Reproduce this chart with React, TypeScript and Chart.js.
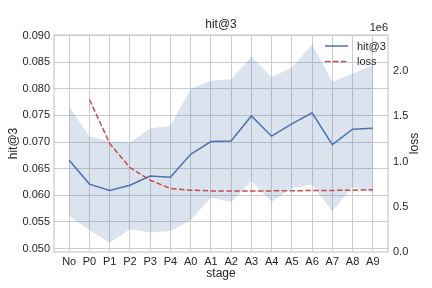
import React, { useEffect, useRef } from "react";
import { Chart, registerables } from "chart.js";

Chart.register(...registerables);

const stages = ["No", "P0", "P1", "P2", "P3", "P4", "A0", "A1", "A2", "A3", "A4", "A5", "A6", "A7", "A8", "A9"];
const hitMean = [0.0666, 0.0621, 0.0609, 0.0619, 0.0636, 0.0634, 0.0677, 0.0701, 0.0702, 0.0749, 0.0711, 0.0734, 0.0755, 0.0695, 0.0724, 0.0726];
const hitUpper = [0.0766, 0.0711, 0.0701, 0.0699, 0.0726, 0.0730, 0.0800, 0.0815, 0.0818, 0.0860, 0.0822, 0.0840, 0.0883, 0.0813, 0.0828, 0.0844];
const hitLower = [0.0561, 0.0535, 0.0511, 0.0536, 0.0530, 0.0533, 0.0553, 0.0596, 0.0587, 0.0627, 0.0588, 0.0613, 0.0620, 0.0570, 0.0616, 0.0605];
const lossValues: (number | null)[] = [null, 1687000, 1200000, 934000, 794000, 702000, 683000, 676000, 675000, 675000, 676000, 677000, 680000, 681000, 684000, 688000];
const leftTicks = [0.05, 0.055, 0.06, 0.065, 0.07, 0.075, 0.08, 0.085, 0.09];
const rightTicks = [0, 500000, 1000000, 1500000, 2000000];

const FONT = "'Liberation Sans', Arial, sans-serif";
const TEXT = "#262626";
const GRID = "#cccccc";
const BLUE = "#4c72b0";
const RED = "#c44e52";

function pts(arr: (number | null)[]) {
  return arr.map((v, i) => ({ x: i, y: v })).filter((p) => p.y !== null);
}

export default function App() {
  const ref = useRef<HTMLCanvasElement>(null);
  useEffect(() => {
    document.body.style.margin = "0";
    const canvas = ref.current!;
    const decor = {
      id: "decor",
      beforeDatasetsDraw(chart: any) {
        const { ctx, chartArea: a } = chart;
        ctx.save();
        ctx.strokeStyle = GRID;
        ctx.lineWidth = 1.25;
        ctx.strokeRect(a.left, a.top, a.right - a.left, a.bottom - a.top);
        ctx.restore();
      },
      afterDraw(chart: any) {
        const { ctx, chartArea: a } = chart;
        ctx.save();
        ctx.fillStyle = TEXT;
        ctx.font = `12px ${FONT}`;
        ctx.textAlign = "center";
        ctx.textBaseline = "middle";
        ctx.fillText("hit@3", (a.left + a.right) / 2, 25);
        ctx.fillText("stage", (a.left + a.right) / 2, 274);
        ctx.save();
        ctx.translate(14, (a.top + a.bottom) / 2);
        ctx.rotate(-Math.PI / 2);
        ctx.fillText("hit@3", 0, 0);
        ctx.restore();
        ctx.save();
        ctx.translate(415, (a.top + a.bottom) / 2);
        ctx.rotate(-Math.PI / 2);
        ctx.fillText("loss", 0, 0);
        ctx.restore();
        ctx.font = `11px ${FONT}`;
        ctx.textAlign = "right";
        ctx.fillText("1e6", a.right, 28);
        // legend
        const lx = a.right - 63;
        const items = [
          { label: "hit@3", color: BLUE, dash: [] as number[], y: 46 },
          { label: "loss", color: RED, dash: [5.5, 2.4], y: 61.5 },
        ];
        items.forEach((it) => {
          ctx.strokeStyle = it.color;
          ctx.lineWidth = 1.5;
          ctx.setLineDash(it.dash);
          ctx.beginPath();
          ctx.moveTo(lx, it.y);
          ctx.lineTo(lx + 23, it.y);
          ctx.stroke();
          ctx.setLineDash([]);
          ctx.textAlign = "left";
          ctx.fillStyle = TEXT;
          ctx.fillText(it.label, lx + 32, it.y + 0.5);
        });
        ctx.restore();
      },
    };

    const chart = new Chart(canvas, {
      type: "line",
      data: {
        datasets: [
          {
            label: "hit@3",
            data: pts(hitMean),
            borderColor: BLUE,
            borderWidth: 1.5,
            pointRadius: 0,
            tension: 0,
            fill: false,
            yAxisID: "y",
            order: 1,
          },
          {
            label: "upper",
            data: pts(hitUpper),
            borderWidth: 0,
            borderColor: "rgba(0,0,0,0)",
            backgroundColor: "rgba(76,114,176,0.2)",
            pointRadius: 0,
            fill: "+1",
            yAxisID: "y",
            order: 3,
          },
          {
            label: "lower",
            data: pts(hitLower),
            borderWidth: 0,
            borderColor: "rgba(0,0,0,0)",
            pointRadius: 0,
            fill: false,
            yAxisID: "y",
            order: 3,
          },
          {
            label: "loss",
            data: pts(lossValues),
            borderColor: RED,
            borderWidth: 1.5,
            borderDash: [5.5, 2.4],
            pointRadius: 0,
            fill: false,
            yAxisID: "y1",
            order: 0,
          },
        ],
      },
      options: {
        responsive: false,
        animation: false,
        layout: { padding: { top: 35, left: 0, right: 0, bottom: 0 } },
        plugins: {
          legend: { display: false },
          title: { display: false },
          tooltip: { enabled: false },
        },
        scales: {
          x: {
            type: "linear",
            min: -0.75,
            max: 15.75,
            afterBuildTicks: (s: any) => {
              s.ticks = stages.map((_, i) => ({ value: i }));
            },
            afterFit: (s: any) => {
              s.height = 36;
            },
            ticks: {
              callback: (v: any) => stages[Math.round(Number(v))] ?? "",
              color: TEXT,
              font: { family: FONT, size: 11 },
              padding: 3,
              maxRotation: 0,
              autoSkip: false,
            },
            grid: { color: GRID, lineWidth: 1, drawTicks: false },
            border: { display: false },
          },
          y: {
            type: "linear",
            position: "left",
            min: 0.04935,
            max: 0.0901,
            afterBuildTicks: (s: any) => {
              s.ticks = leftTicks.map((v) => ({ value: v }));
            },
            afterFit: (s: any) => {
              s.width = 54;
            },
            ticks: {
              callback: (v: any) => Number(v).toFixed(3),
              color: TEXT,
              font: { family: FONT, size: 11 },
              padding: 4,
            },
            grid: { color: GRID, lineWidth: 1, drawTicks: false },
            border: { display: false },
          },
          y1: {
            type: "linear",
            position: "right",
            min: 0,
            max: 2400000,
            afterBuildTicks: (s: any) => {
              s.ticks = rightTicks.map((v) => ({ value: v }));
            },
            afterFit: (s: any) => {
              s.width = 44;
            },
            ticks: {
              callback: (v: any) => (Number(v) / 1e6).toFixed(1),
              color: TEXT,
              font: { family: FONT, size: 11 },
              padding: 5,
            },
            grid: { display: false, drawTicks: false },
            border: { display: false },
          },
        },
      },
      plugins: [decor],
    } as any);
    return () => chart.destroy();
  }, []);
  return (
    <div style={{ width: 432, height: 288 }}>
      <canvas ref={ref} width={432} height={288} style={{ display: "block" }} />
    </div>
  );
}
